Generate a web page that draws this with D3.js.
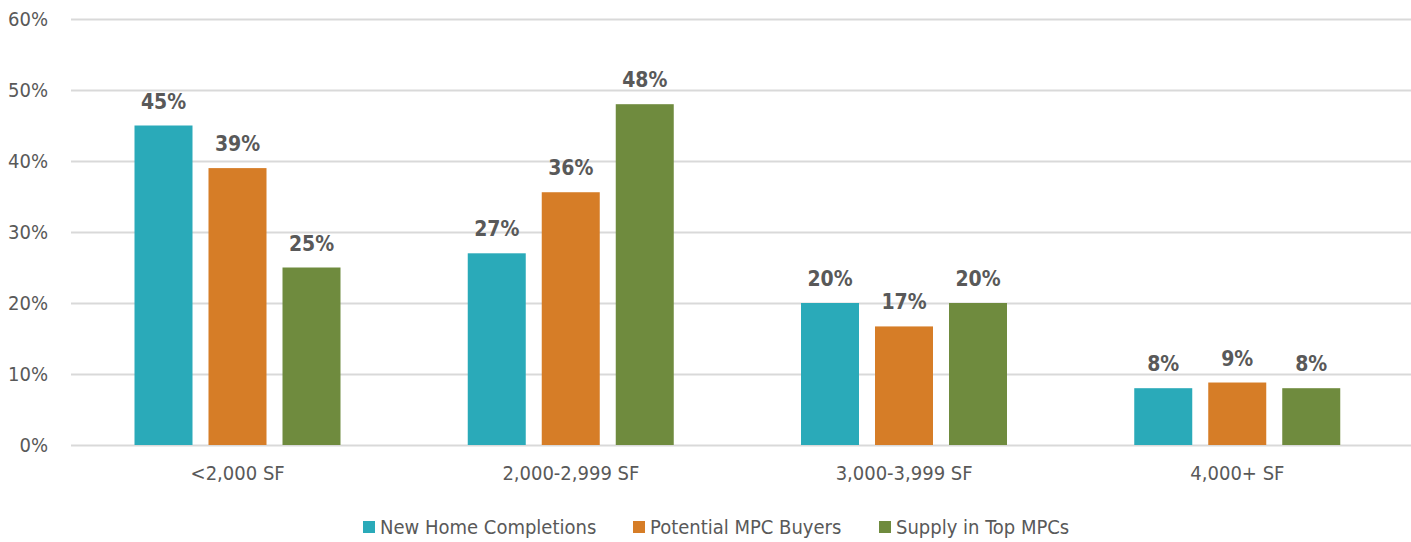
<!DOCTYPE html>
<html>
<head>
<meta charset="utf-8">
<script src="https://d3js.org/d3.v7.min.js"></script>
<style>
  body { margin: 0; background: #fff; }
  svg text { font-family: "Liberation Sans Narrow", "DejaVu Sans Condensed", "Roboto", sans-serif; font-stretch: condensed; }
  .grid line { stroke: #d9d9d9; stroke-width: 2; }
  .grid path { display: none; }
</style>
</head>
<body>
<svg id="chart" width="1411" height="542"></svg>
<script>
// data
var categories = ["<2,000 SF", "2,000-2,999 SF", "3,000-3,999 SF", "4,000+ SF"];
var seriesNames = ["New Home Completions", "Potential MPC Buyers", "Supply in Top MPCs"];
var newHomeCompletions = [45, 27, 20, 8];
var potentialMpcBuyers = [39, 35.6, 16.7, 8.8];
var supplyInTopMpcs = [25, 48, 20, 8];
var yTicks = [0, 10, 20, 30, 40, 50, 60];

var colors = ["#2aaab9", "#d67d27", "#6f8b3e"];
var series = [newHomeCompletions, potentialMpcBuyers, supplyInTopMpcs];

var svg = d3.select("#chart");
var plotLeft = 71, plotRight = 1404, plotTop = 19, plotBottom = 445;

var x0 = d3.scaleBand()
    .domain(categories)
    .range([plotLeft, plotRight])
    .paddingInner(0)
    .paddingOuter(0);

// bars inside group: 206px of 333 band
var x1 = d3.scaleBand()
    .domain(d3.range(series.length))
    .range([63.5, 333 - 63.5])
    .paddingInner(16 / 74)
    .paddingOuter(0);

var y = d3.scaleLinear().domain([0, 60]).range([plotBottom, plotTop]);

// gridlines
svg.append("g")
    .attr("class", "grid")
    .attr("transform", "translate(" + plotLeft + ",0)")
    .call(d3.axisLeft(y).tickValues(yTicks).tickSize(-(1411 - plotLeft)).tickFormat(""));

// y tick labels
svg.selectAll(".ylab")
    .data(yTicks)
    .enter()
    .append("text")
    .attr("class", "ylab")
    .attr("x", 48)
    .attr("y", function(d) { return y(d); })
    .attr("dy", "0.35em")
    .attr("text-anchor", "end")
    .attr("fill", "#595959")
    .style("font-size", "20px")
    .text(function(d) { return d + "%"; });

// bars
var groups = svg.selectAll(".grp")
    .data(categories)
    .enter()
    .append("g")
    .attr("class", "grp")
    .attr("transform", function(d) { return "translate(" + x0(d) + ",0)"; });

groups.each(function(cat, ci) {
    var g = d3.select(this);
    series.forEach(function(s, si) {
        g.append("rect")
            .attr("x", x1(si))
            .attr("width", x1.bandwidth())
            .attr("y", y(s[ci]))
            .attr("height", y(0) - y(s[ci]))
            .attr("fill", colors[si]);
        g.append("text")
            .attr("x", x1(si) + x1.bandwidth() / 2)
            .attr("y", y(s[ci]) - 17)
            .attr("text-anchor", "middle")
            .attr("fill", "#595959")
            .style("font-size", "21px")
            .style("font-weight", "bold")
            .text(Math.round(s[ci]) + "%");
    });
});

// category labels
svg.selectAll(".xlab")
    .data(categories)
    .enter()
    .append("text")
    .attr("class", "xlab")
    .attr("x", function(d) { return x0(d) + x0.bandwidth() / 2; })
    .attr("y", 480)
    .attr("text-anchor", "middle")
    .attr("fill", "#595959")
    .style("font-size", "20px")
    .text(function(d) { return d; });

// legend
var legendX = [363, 633, 879];
var legend = svg.selectAll(".leg")
    .data(seriesNames)
    .enter()
    .append("g")
    .attr("class", "leg")
    .attr("transform", function(d, i) { return "translate(" + legendX[i] + ",521)"; });
legend.append("rect")
    .attr("width", 12)
    .attr("height", 12)
    .attr("fill", function(d, i) { return colors[i]; });
legend.append("text")
    .attr("x", 17)
    .attr("y", 6)
    .attr("dy", "0.35em")
    .attr("fill", "#595959")
    .style("font-size", "20px")
    .text(function(d) { return d; });
</script>
</body>
</html>
